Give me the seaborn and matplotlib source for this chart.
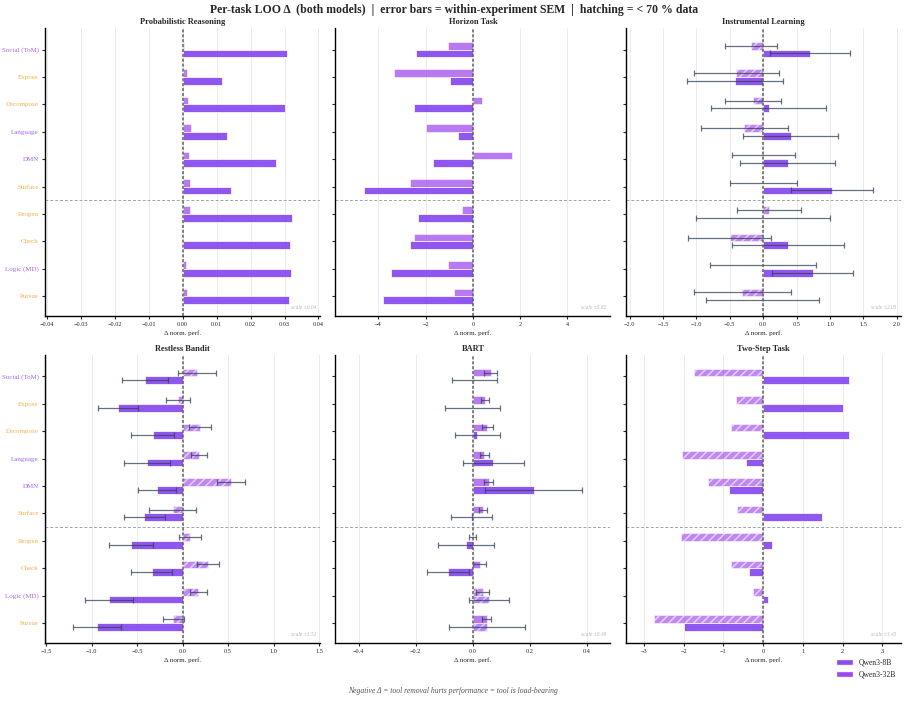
import numpy as np
import pandas as pd
import matplotlib
matplotlib.use("Agg")
import matplotlib.pyplot as plt
import seaborn as sns
from matplotlib.patches import Patch

tools = ["Social (ToM)", "Expose", "Decompose", "Language", "DMN",
         "Surface", "Reopen", "Check", "Logic (MD)", "Pursue"]
purple_tools = ["Social (ToM)", "Language", "DMN", "Logic (MD)"]
models = ["Qwen3-32B", "Qwen3-8B"]   # upper bar, lower bar

tasks = ["Probabilistic Reasoning", "Horizon Task", "Instrumental Learning",
         "Restless Bandit", "BART", "Two-Step Task"]
scales = [0.04, 5.82, 2.05, 1.51, 0.48, 3.45]
xlims = [0.0405, 5.82, 2.06, 1.51, 0.482, 3.46]
tick_steps = [0.01, 2, 0.5, 0.5, 0.2, 1]

# Probabilistic Reasoning
prob_32b = [0.0005, 0.0014, 0.0017, 0.0024, 0.0019, 0.0022, 0.0021, 0.0, 0.0010, 0.0014]
prob_8b = [0.0307, 0.0116, 0.0302, 0.0131, 0.0275, 0.0141, 0.0323, 0.0316, 0.0318, 0.0314]

# Horizon Task
hor_32b = [-1.07, -3.32, 0.39, -1.97, 1.65, -2.66, -0.44, -2.51, -1.07, -0.82]
hor_8b = [-2.41, -0.97, -2.48, -0.65, -1.69, -4.61, -2.32, -2.66, -3.45, -3.82]

# Instrumental Learning
inst_32b = [-0.18, -0.40, -0.15, -0.28, 0.0, 0.0, 0.09, -0.50, 0.0, -0.31]
inst_8b = [0.70, -0.42, 0.08, 0.41, 0.37, 1.03, 0.0, 0.37, 0.74, -0.01]
inst_sem_32b = [0.39, 0.63, 0.42, 0.645, 0.47, 0.50, 0.475, 0.62, 0.79, 0.73]
inst_sem_8b = [0.60, 0.72, 0.86, 0.71, 0.71, 0.61, 1.00, 0.84, 0.61, 0.85]
inst_low_32b = [True, True, True, True, True, True, True, True, False, True]
inst_low_8b = [False] * 10

# Restless Bandit
rb_32b = [0.16, -0.05, 0.19, 0.18, 0.53, -0.11, 0.08, 0.28, 0.17, -0.10]
rb_8b = [-0.41, -0.71, -0.33, -0.39, -0.28, -0.42, -0.57, -0.34, -0.81, -0.94]
rb_sem_32b = [0.21, 0.13, 0.12, 0.093, 0.157, 0.254, 0.12, 0.12, 0.093, 0.117]
rb_sem_8b = [0.25, 0.22, 0.24, 0.248, 0.21, 0.228, 0.24, 0.225, 0.263, 0.263]
rb_low_32b = [True] * 10
rb_low_8b = [False] * 10

# BART
bart_32b = [0.062, 0.043, 0.050, 0.040, 0.055, 0.035, -0.002, 0.024, 0.035, 0.048]
bart_8b = [0.005, 0.0, 0.016, 0.072, 0.213, -0.005, -0.024, -0.086, 0.055, 0.051]
bart_sem_32b = [0.023, 0.015, 0.019, 0.016, 0.017, 0.014, 0.012, 0.022, 0.023, 0.015]
bart_sem_8b = [0.078, 0.096, 0.08, 0.107, 0.17, 0.073, 0.098, 0.074, 0.07, 0.133]
bart_low_32b = [False] * 8 + [True, False]
bart_low_8b = [False] * 8 + [True, True]

# Two-Step Task
two_32b = [-1.74, -0.69, -0.82, -2.04, -1.39, -0.66, -2.07, -0.82, -0.26, -2.75]
two_8b = [2.15, 2.00, 2.15, -0.42, -0.87, 1.48, 0.21, -0.35, 0.13, -1.98]
two_low_32b = [True] * 10
two_low_8b = [False] * 10

vals_32b = [prob_32b, hor_32b, inst_32b, rb_32b, bart_32b, two_32b]
vals_8b = [prob_8b, hor_8b, inst_8b, rb_8b, bart_8b, two_8b]
sems_32b = [None, None, inst_sem_32b, rb_sem_32b, bart_sem_32b, None]
sems_8b = [None, None, inst_sem_8b, rb_sem_8b, bart_sem_8b, None]
lows_32b = [[False] * 10, [False] * 10, inst_low_32b, rb_low_32b, bart_low_32b, two_low_32b]
lows_8b = [[False] * 10, [False] * 10, inst_low_8b, rb_low_8b, bart_low_8b, two_low_8b]

palette = {"Qwen3-32B": "#9333ea", "Qwen3-8B": "#7c3aed"}

sns.set_theme(style="white")
plt.rcParams["font.family"] = ["Liberation Serif", "DejaVu Serif"]
plt.rcParams["hatch.linewidth"] = 1.1

fig, axes = plt.subplots(2, 3, figsize=(9.08, 7.25), dpi=100)
fig.subplots_adjust(left=0.0496, right=0.992, top=0.961, bottom=0.113,
                    wspace=0.055, hspace=0.135)

ypos = np.arange(len(tools))
for k, ax in enumerate(axes.flat):
    df = pd.DataFrame({
        "tool": tools * 2,
        "model": [models[0]] * 10 + [models[1]] * 10,
        "delta": vals_32b[k] + vals_8b[k],
    })
    sns.barplot(data=df, y="tool", x="delta", hue="model", order=tools,
                hue_order=models, palette=palette, orient="h", width=0.56,
                saturation=1, errorbar=None, legend=False, ax=ax,
                edgecolor="white", linewidth=0.6, zorder=2)

    for bar, low in zip(ax.containers[0], lows_32b[k]):
        bar.set_alpha(0.58 if low else 0.65)
        if low:
            bar.set_hatch("////")
    for bar, low in zip(ax.containers[1], lows_8b[k]):
        bar.set_alpha(0.6 if low else 0.85)
        if low:
            bar.set_hatch("////")

    if sems_32b[k] is not None:
        ax.errorbar(vals_32b[k], ypos - 0.14, xerr=sems_32b[k], fmt="none",
                    ecolor="#334155", elinewidth=0.9, capsize=2, capthick=0.9,
                    alpha=0.75, zorder=4)
        ax.errorbar(vals_8b[k], ypos + 0.14, xerr=sems_8b[k], fmt="none",
                    ecolor="#334155", elinewidth=0.9, capsize=2, capthick=0.9,
                    alpha=0.75, zorder=4)

    ax.axvline(0, color="#606060", ls=(0, (2, 1.2)), lw=1.1, zorder=5)
    ax.axhline(5.5, color="#9ca3af", ls=(0, (3, 2)), lw=0.7, zorder=1)

    lim = xlims[k]
    step = tick_steps[k]
    nmax = int(np.floor(lim / step + 1e-9))
    ax.set_xticks(np.arange(-nmax, nmax + 1) * step)
    ax.set_xlim(-lim, lim)
    ax.set_ylim(9.73, -0.78)
    ax.grid(axis="x", color="#e8e8ec", lw=0.6)
    ax.set_axisbelow(True)
    sns.despine(ax=ax)
    for side in ["left", "bottom"]:
        ax.spines[side].set_color("black")
        ax.spines[side].set_linewidth(1.0)
    ax.tick_params(bottom=True, left=True, length=2.5, width=0.8,
                   labelsize=4.5, pad=2)

    ax.set_title(tasks[k], fontsize=6, fontweight="bold", pad=3)
    ax.set_xlabel("Δ norm. perf.", fontsize=5, labelpad=2)
    ax.set_ylabel("")
    ax.set_yticks(ypos)
    if k % 3 == 0:
        ax.set_yticklabels(tools, fontsize=5)
        for lab in ax.get_yticklabels():
            lab.set_color("#a366f0" if lab.get_text() in purple_tools else "#f5b04c")
    else:
        ax.set_yticklabels([])

    ax.text(0.985, 0.02, f"scale ±{scales[k]:.2f}", transform=ax.transAxes,
            ha="right", va="bottom", fontsize=4, style="italic", color="#b8b8b8")

fig.suptitle("Per-task LOO Δ  (both models)  |  error bars = within-experiment SEM  |  hatching = < 70 % data",
             fontsize=8.5, fontweight="bold", y=0.986, va="center")

handles = [Patch(facecolor=palette["Qwen3-8B"], alpha=0.9, label="Qwen3-8B"),
           Patch(facecolor=palette["Qwen3-32B"], alpha=0.9, label="Qwen3-32B")]
fig.legend(handles=handles, loc="upper right", bbox_to_anchor=(0.992, 0.098),
           frameon=False, fontsize=5.5, handlelength=2.2, handleheight=0.9,
           borderaxespad=0.2, labelspacing=0.5)

fig.text(0.499, 0.047, "Negative Δ = tool removal hurts performance = tool is load-bearing",
         ha="center", va="center", fontsize=5.5, style="italic", color="#555555")

fig.savefig("out.png", dpi=100)
